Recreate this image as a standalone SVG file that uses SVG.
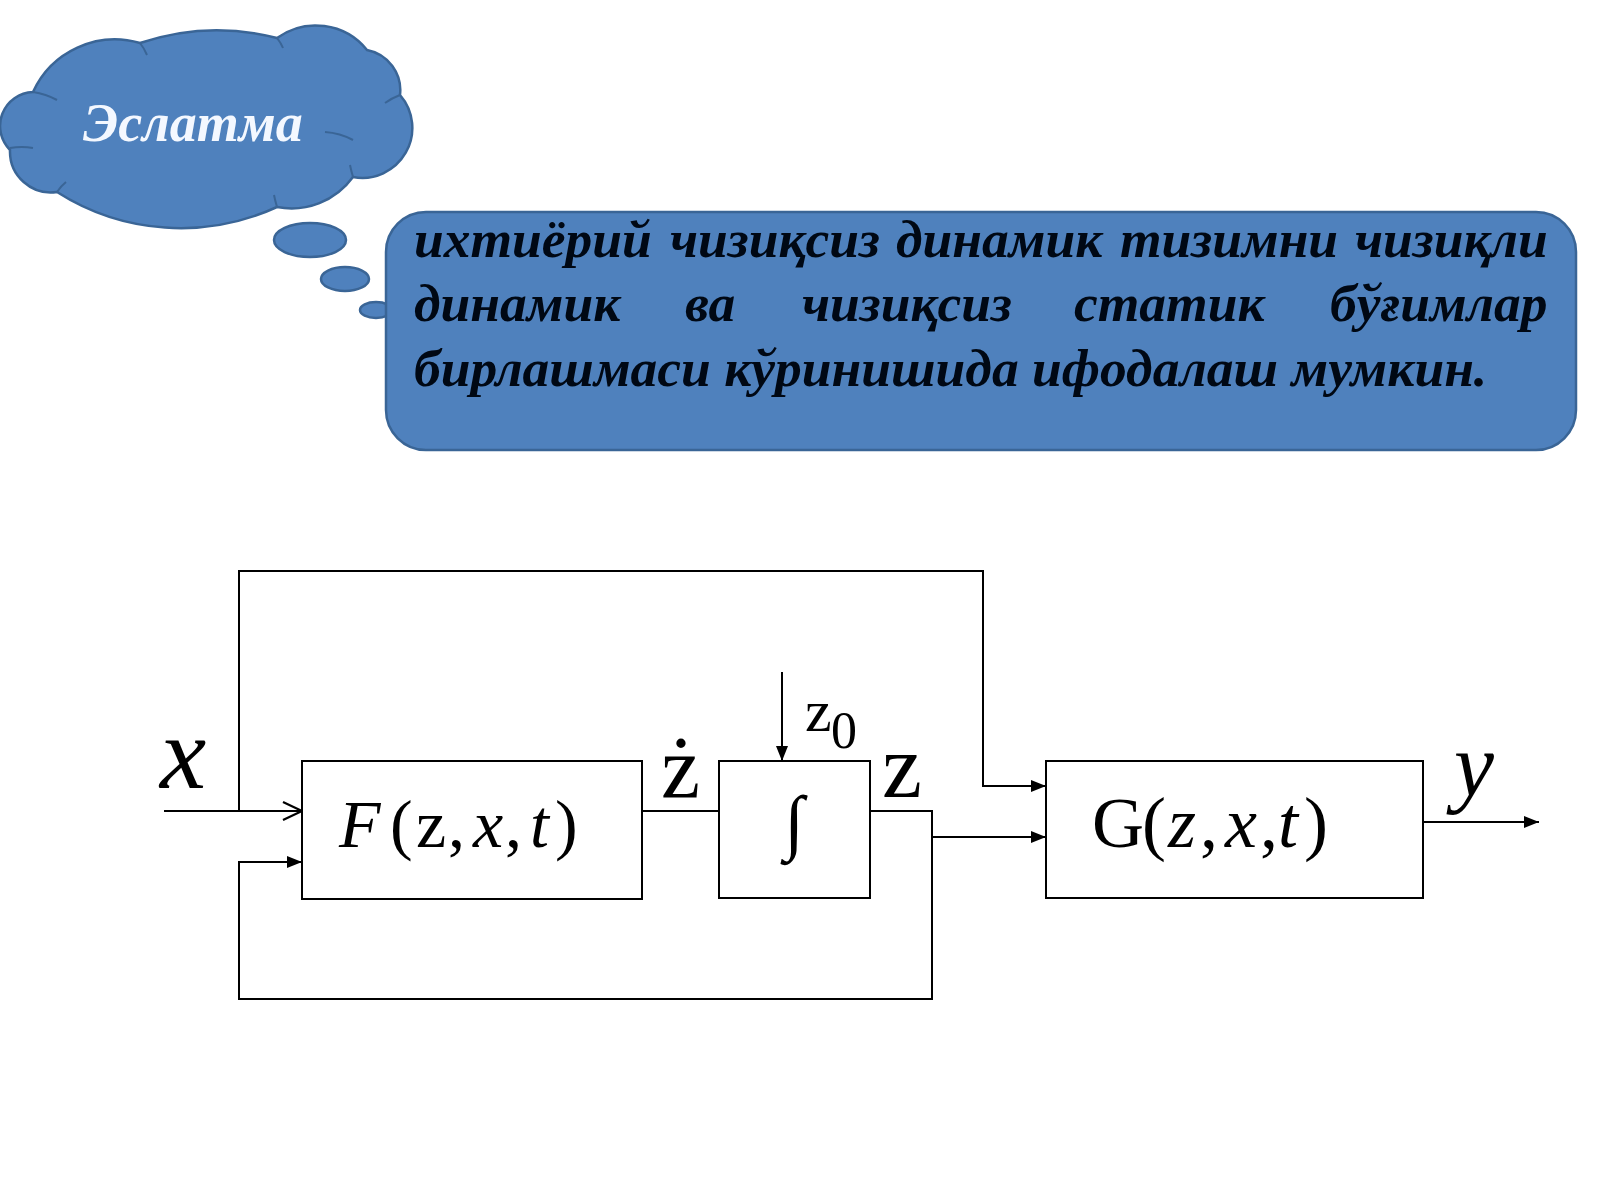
<svg xmlns="http://www.w3.org/2000/svg" width="1600" height="1200" viewBox="0 0 1600 1200">
<style>
.shape{fill:#4f81bd;stroke:#3a6596;stroke-width:2.5}
.crease{fill:none;stroke:#3a6596;stroke-width:2}
.note{font-family:"Liberation Serif","DejaVu Serif",serif;font-style:italic;font-weight:bold;font-size:53.5px;fill:#000814}
.title{font-family:"Liberation Serif","DejaVu Serif",serif;font-style:italic;font-weight:bold;font-size:54px;fill:#f4f8ff}
.box{fill:#ffffff;stroke:#000;stroke-width:2}
.ln{fill:none;stroke:#000;stroke-width:2}
.m{font-family:"Liberation Serif","DejaVu Serif",serif;fill:#000}
.i{font-style:italic}
</style>
<defs>
<marker id="ah" markerUnits="userSpaceOnUse" markerWidth="16" markerHeight="14" refX="15" refY="7" orient="auto">
<path d="M0,1 L15,7 L0,13 Z" fill="#000"/>
</marker>
<marker id="open" markerUnits="userSpaceOnUse" markerWidth="22" markerHeight="22" refX="20" refY="11" orient="auto">
<path d="M1,2 L20,11 L1,20" fill="none" stroke="#000" stroke-width="2.2"/>
</marker>
</defs>
<rect width="1600" height="1200" fill="#ffffff"/>

<g id="cloud">
<path class="shape" d="M33,92 A90,90 0 0 1 140,43 A240,240 0 0 1 277,38 A66,66 0 0 1 367,50 A41,41 0 0 1 400,95 A50,50 0 0 1 353,177 A76,76 0 0 1 277,207 A230,230 0 0 1 57,192 A41,41 0 0 1 10,150 A34,34 0 0 1 33,92 Z"/>
<path class="crease" d="M33,92 Q46,94 57,100 M140,43 Q144,48 147,55 M277,38 Q281,43 283,48 M325,132 Q340,133 353,140 M10,148 Q22,146 33,148 M57,192 Q61,186 66,182 M277,207 Q275,200 274,195 M353,177 Q351,170 350,165 M400,95 Q392,98 385,103"/>
<ellipse class="shape" cx="310" cy="240" rx="36" ry="17"/>
<ellipse class="shape" cx="345" cy="279" rx="24" ry="12"/>
<ellipse class="shape" cx="376" cy="310" rx="16" ry="8"/>
<text class="title" x="83" y="141">Эслатма</text>
</g>

<g id="note">
<rect class="shape" x="386" y="212" width="1190" height="238" rx="40" ry="40"/>
<text class="note" y="257"><tspan x="414">ихтиёрий</tspan><tspan x="670">чизиқсиз</tspan><tspan x="896">динамик</tspan><tspan x="1120">тизимни</tspan><tspan x="1355">чизиқли</tspan></text>
<text class="note" y="321"><tspan x="414">динамик</tspan><tspan x="685">ва</tspan><tspan x="802">чизиқсиз</tspan><tspan x="1074">статик</tspan><tspan x="1330">бўғимлар</tspan></text>
<text class="note" x="414" y="386">бирлашмаси кўринишида ифодалаш мумкин.</text>
</g>

<g id="connectors">
<line class="ln" x1="164" y1="811" x2="302" y2="811" marker-end="url(#open)"/>
<polyline class="ln" points="239,811 239,571 983,571 983,786 1046,786" marker-end="url(#ah)"/>
<line class="ln" x1="642" y1="811" x2="719" y2="811"/>
<line class="ln" x1="782" y1="672" x2="782" y2="761" marker-end="url(#ah)"/>
<polyline class="ln" points="870,811 932,811 932,999 239,999 239,862 302,862" marker-end="url(#ah)"/>
<line class="ln" x1="932" y1="837" x2="1046" y2="837" marker-end="url(#ah)"/>
<line class="ln" x1="1423" y1="822" x2="1539" y2="822" marker-end="url(#ah)"/>
</g>

<g id="labels">
<text class="m i" x="160" y="788" font-size="104">x</text>
<text class="m" x="661" y="797" font-size="88">ż</text>
<text class="m" x="882" y="797" font-size="90">z</text>
<text class="m" x="805" y="731" font-size="60">z</text>
<text class="m" x="831" y="748" font-size="52">0</text>
<text class="m i" x="1454" y="796" font-size="90">y</text>
</g>

<g id="nodeF">
<rect class="box" x="302" y="761" width="340" height="138"/>
<text class="m" y="847" font-size="68"><tspan class="i" x="339">F</tspan><tspan x="390">(</tspan><tspan x="416">z</tspan><tspan x="448">,</tspan><tspan class="i" x="473">x</tspan><tspan x="505">,</tspan><tspan class="i" x="530">t</tspan><tspan x="555">)</tspan></text>
</g>

<g id="nodeInt">
<rect class="box" x="719" y="761" width="151" height="137"/>
<text class="m" x="794" y="846" font-size="72" text-anchor="middle">∫</text>
</g>

<g id="nodeG">
<rect class="box" x="1046" y="761" width="377" height="137"/>
<text class="m" y="847" font-size="72"><tspan x="1092">G</tspan><tspan x="1142">(</tspan><tspan class="i" x="1168">z</tspan><tspan x="1200">,</tspan><tspan class="i" x="1225">x</tspan><tspan x="1260">,</tspan><tspan class="i" x="1278">t</tspan><tspan x="1304">)</tspan></text>
</g>
</svg>
